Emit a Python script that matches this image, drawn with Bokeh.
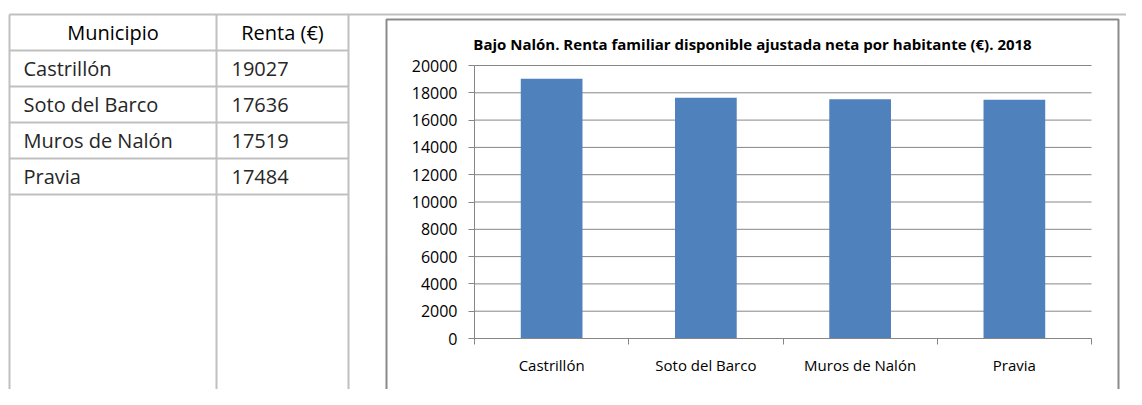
from bokeh.plotting import figure
from bokeh.models import Range1d, FixedTicker, LinearAxis
from bokeh.embed import file_html
from bokeh.resources import INLINE
from bokeh.core.properties import value

# ---- data ----
municipios = ["Castrillón", "Soto del Barco", "Muros de Nalón", "Pravia"]
renta = [19027, 17636, 17519, 17484]
table_headers = ["Municipio", "Renta (€)"]
title_text = "Bajo Nalón. Renta familiar disponible ajustada neta por habitante (€). 2018"
y_ticks = [0, 2000, 4000, 6000, 8000, 10000, 12000, 14000, 16000, 18000, 20000]

# ---- layout constants (page pixels) ----
OFF = 0
W, H = 1126, 389
GRID = "#c0c0c0"
FONT = "Open Sans"
AX = "#868686"
n = len(municipios)

p = figure(width=W, height=H, x_range=Range1d(OFF, OFF + W), y_range=Range1d(OFF + H, OFF),
           output_backend="svg", toolbar_location=None, min_border=0,
           x_axis_location=None, y_axis_location=None)
p.grid.visible = False
p.outline_line_color = None

# ---- table ----
top = 14
head_h = 36
row_h = 36
col_x = [9, 216, 348]
hy = [top] + [top + head_h + row_h * i for i in range(n + 1)]
p.segment(x0=[col_x[0]] * len(hy), y0=hy, x1=[OFF + W] + [col_x[2]] * (len(hy) - 1), y1=hy,
          line_color=GRID, line_width=2)
p.segment(x0=col_x, y0=[top] * 3, x1=col_x, y1=[OFF + H + 5] * 3, line_color=GRID, line_width=2)

row_y = [top + head_h + row_h * (i + 0.5) for i in range(n)]
p.text(x=[(col_x[0] + col_x[1]) / 2, (col_x[1] + col_x[2]) / 2], y=[top + head_h / 2] * 2,
       text=table_headers, text_font=value(FONT), text_font_size="20px",
       text_align="center", text_baseline="middle", text_color="#000000")
p.text(x=[col_x[0] + 14] * n, y=row_y, text=municipios, text_font=value(FONT),
       text_font_size="20px", text_baseline="middle", text_color="#262626")
p.text(x=[col_x[1] + 15] * n, y=row_y, text=[str(v) for v in renta], text_font=value(FONT),
       text_font_size="20px", text_baseline="middle", text_color="#262626")

# ---- chart box and title ----
p.quad(left=[386], right=[1118], top=[19], bottom=[OFF + H + 10],
       fill_color=None, line_color="#8a8a8a", line_width=2)
p.text(x=[752], y=[43], text=[title_text], text_font=value(FONT), text_font_style="bold",
       text_font_size="15px", text_align="center", text_baseline="middle", text_color="#000000")

# ---- chart (own scales) ----
CL, CR, CT, CB = 474, 1091, 65, 338
ymax = y_ticks[-1]
kx = (CR - CL) / n
ky = (CB - CT) / ymax
p.extra_x_ranges = {"cx": Range1d((OFF - CL) / kx, (OFF + W - CL) / kx)}
p.extra_y_ranges = {"cy": Range1d((CB - (OFF + H)) / ky, (CB - OFF) / ky)}

centers = [i + 0.5 for i in range(n)]
p.segment(x0=[0] * len(y_ticks), x1=[n] * len(y_ticks), y0=y_ticks, y1=y_ticks,
          x_range_name="cx", y_range_name="cy", line_color=AX, line_width=1)
p.vbar(x=centers, top=renta, width=0.4, x_range_name="cx", y_range_name="cy",
       fill_color="#4F81BD", line_color=None)

yax = LinearAxis(y_range_name="cy", fixed_location=CL, bounds=(0, ymax),
                 ticker=FixedTicker(ticks=y_ticks))
yax.minor_tick_line_color = None
yax.major_tick_out = 6
yax.major_tick_in = 0
yax.major_tick_line_color = AX
yax.major_label_standoff = 11
yax.major_label_text_font_size = "16px"

xax = LinearAxis(x_range_name="cx", fixed_location=CB, bounds=(0, n),
                 ticker=FixedTicker(ticks=centers, minor_ticks=list(range(n + 1))))
xax.major_label_overrides = {c: m for c, m in zip(centers, municipios)}
xax.major_tick_line_color = None
xax.minor_tick_line_color = AX
xax.minor_tick_out = 6
xax.minor_tick_in = 0
xax.major_label_standoff = 10
xax.major_label_text_font_size = "15px"

for ax in (xax, yax):
    ax.axis_line_color = AX
    ax.major_label_text_font = FONT
    ax.major_label_text_color = "#000000"

p.add_layout(yax, "left")
p.add_layout(xax, "below")

open("out.html", "w").write(file_html(p, INLINE))
